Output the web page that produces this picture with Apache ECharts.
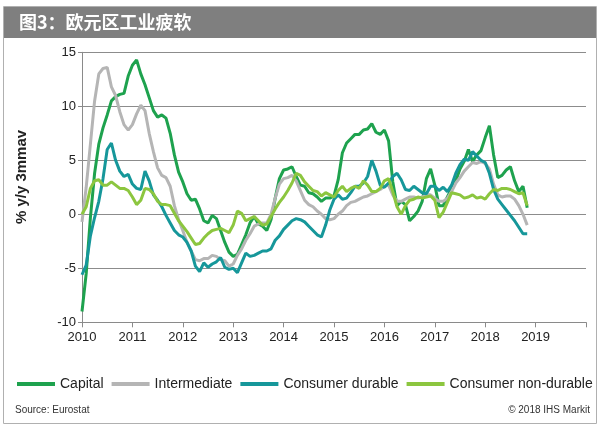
<!DOCTYPE html>
<html><head><meta charset="utf-8">
<script src="https://cdn.jsdelivr.net/npm/echarts@6/dist/echarts.min.js"></script>
<style>html,body{margin:0;padding:0;background:#fff}#c{width:600px;height:430px}</style>
</head><body><div id="c"></div>
<script>
// Monthly data, Jan 2010 onward (% y/y 3mmav)
const startYear = 2010;
const seriesNames = ['Capital', 'Intermediate', 'Consumer durable', 'Consumer non-durable'];
const capital = [-9.0,-5.5,-0.3,3.8,6.5,8.0,9.2,10.5,10.9,11.1,11.2,12.8,13.8,14.3,13.0,12.0,10.8,9.6,9.0,9.2,8.9,7.5,5.5,3.9,3.0,1.9,1.3,1.4,0.5,-0.6,-0.8,-0.1,-0.4,-1.5,-2.6,-3.5,-3.9,-3.7,-2.8,-1.9,-0.8,-0.2,-0.9,-1.1,-1.5,-0.5,1.5,3.3,4.1,4.2,4.4,3.5,2.7,2.6,2.0,1.9,1.6,1.2,1.5,1.5,1.7,3.2,5.7,6.6,7.0,7.4,7.4,7.8,7.9,8.4,7.6,7.4,7.8,6.8,3.0,0.8,1.2,0.9,-0.6,-0.2,0.3,1.2,3.3,4.2,2.7,0.8,0.8,1.6,2.4,3.1,4.2,4.9,6.0,4.9,5.5,5.9,7.1,8.2,5.5,3.4,3.6,4.1,4.4,3.1,2.1,2.6,0.6];
const intermediate = [-0.7,2.5,6.5,10.5,13.0,13.5,13.6,11.8,11.0,9.5,8.3,7.8,8.3,9.3,10.1,9.6,7.5,5.8,4.3,3.6,3.4,2.6,0.8,-0.5,-1.5,-2.6,-3.4,-4.2,-4.3,-4.1,-4.1,-3.8,-3.9,-4.2,-4.3,-4.8,-4.6,-3.8,-3.2,-2.4,-1.8,-1.1,-0.9,-0.8,-0.8,0.0,1.5,2.8,3.3,3.4,3.6,3.1,2.2,1.3,0.9,0.7,0.3,0.0,-0.4,-0.5,-0.4,0.0,0.3,0.8,1.1,1.2,1.4,1.6,1.7,1.9,2.1,2.3,2.6,2.7,1.8,1.2,1.2,1.4,1.6,1.6,1.5,1.6,1.8,1.8,1.5,1.2,1.2,1.5,2.1,2.9,3.4,4.0,4.4,4.8,4.7,4.9,4.7,4.2,2.8,1.8,1.6,1.7,1.7,1.4,0.8,0.0,-1.0];
const consumerDurable = [-5.6,-4.7,-2.0,-0.3,1.2,3.3,6.0,6.6,5.0,4.0,3.5,3.7,2.8,2.4,2.3,4.0,3.1,1.8,1.3,0.7,-0.1,-0.8,-1.5,-1.9,-2.1,-2.6,-3.4,-4.8,-5.3,-4.5,-4.9,-4.6,-4.4,-4.0,-4.9,-5.1,-5.0,-5.4,-4.5,-3.6,-3.9,-3.8,-3.6,-3.4,-3.4,-3.2,-2.4,-2.0,-1.4,-1.0,-0.6,-0.4,-0.5,-0.7,-1.1,-1.5,-1.9,-2.1,-1.0,0.4,1.4,1.8,1.4,1.5,2.0,2.6,2.6,2.9,3.5,5.0,4.0,2.7,2.5,2.9,3.5,3.8,3.2,2.3,2.2,2.6,2.3,2.0,1.9,2.6,2.6,2.2,2.5,2.1,2.7,3.8,4.6,5.1,5.0,5.8,5.4,5.0,4.8,3.8,2.3,1.4,0.9,0.4,-0.1,-0.6,-1.2,-1.8,-1.8];
const consumerNonDurable = [0.0,0.7,2.4,3.1,3.2,2.7,2.7,3.0,2.7,2.4,2.4,2.2,1.6,0.9,1.3,2.4,2.3,1.9,1.2,0.9,0.9,0.8,0.1,-0.6,-1.1,-1.6,-2.2,-2.8,-2.7,-2.2,-1.8,-1.5,-1.4,-1.3,-1.5,-1.7,-1.0,0.3,0.1,-0.6,-0.4,-0.2,-0.6,-1.0,-0.9,-0.2,0.5,1.1,1.6,2.2,2.9,3.8,3.6,3.0,2.6,2.2,2.1,1.7,2.0,1.8,1.6,2.2,2.6,2.1,2.4,2.6,2.4,3.1,2.7,2.1,2.1,2.4,3.1,3.3,2.1,0.7,0.0,0.8,1.3,1.4,1.6,1.5,1.6,1.7,1.3,-0.3,0.2,1.1,2.0,1.9,1.8,1.5,1.6,1.8,1.5,1.6,1.4,1.9,2.3,2.2,2.4,2.4,2.3,2.1,1.9,2.0,0.8];
const yearTicks = [2010,2011,2012,2013,2014,2015,2016,2017,2018,2019];
const colors = ['#1ea24e', '#b5b5b5', '#16979a', '#8cc63f'];

function toPairs(arr){ return arr.map((v,i)=>[startYear + i/12, v]); }
const allData = [capital, intermediate, consumerDurable, consumerNonDurable];

const chart = echarts.init(document.getElementById('c'), null, {renderer:'canvas'});
chart.setOption({
  animation:false,
  color: colors,
  textStyle:{fontFamily:'Liberation Sans, Arial, sans-serif'},
  grid:{left:82, right:14, top:52.3, bottom:107.7},
  xAxis:{type:'value', min:2010, max:2020, interval:1,
    axisLine:{onZero:false, lineStyle:{color:'#8a8a8a', width:1}},
    axisTick:{show:true, length:5, lineStyle:{color:'#8a8a8a'}},
    splitLine:{show:false},
    axisLabel:{color:'#222', fontSize:13, margin:9,
      formatter:v=> yearTicks.indexOf(Math.round(v))>=0 ? String(Math.round(v)) : ''}},
  yAxis:{type:'value', min:-10, max:15, interval:5,
    axisLine:{show:true, lineStyle:{color:'#8a8a8a', width:1}},
    axisTick:{show:true, length:4, lineStyle:{color:'#8a8a8a'}},
    splitLine:{show:true, lineStyle:{color:'#8c8c8c', width:1}},
    axisLabel:{color:'#222', fontSize:13, margin:6}},
  legend:{show:true, left:12, top:372, itemWidth:38, itemHeight:4, icon:'rect', itemGap:8,
    textStyle:{fontSize:14, color:'#222', fontFamily:'Liberation Sans, Arial, sans-serif'},
    data: seriesNames},
  series: seriesNames.map((n,k)=>({
    name:n, type:'line', data:toPairs(allData[k]), showSymbol:false, symbol:'none',
    lineStyle:{width:3, color:colors[k]}, itemStyle:{color:colors[k]}, z:2+k
  })),
  graphic:[
    {type:'rect', shape:{x:3.5, y:6.5, width:593, height:417}, style:{fill:'none', stroke:'#b0b0b0', lineWidth:1}, z:-1},
    {type:'rect', shape:{x:4, y:7, width:592, height:31}, style:{fill:'#7f7f7f'}},
    {type:'text', x:19, y:22.5, style:{text:'图3：欧元区工业疲软', fill:'#fff', font:'bold 18px "Noto Sans CJK SC"', verticalAlign:'middle'}},
    {type:'text', x:22, y:177, rotation:Math.PI/2, style:{text:'% y/y 3mmav', fill:'#222', font:'bold 15px "Liberation Sans", Arial', align:'center', verticalAlign:'middle'}},
    {type:'text', x:15, y:410, style:{text:'Source: Eurostat', fill:'#333', font:'10px "Liberation Sans", Arial', verticalAlign:'middle'}},
    {type:'text', x:590, y:410, style:{text:'© 2018 IHS Markit', fill:'#333', font:'10px "Liberation Sans", Arial', align:'right', verticalAlign:'middle'}}
  ]
});
</script></body></html>
